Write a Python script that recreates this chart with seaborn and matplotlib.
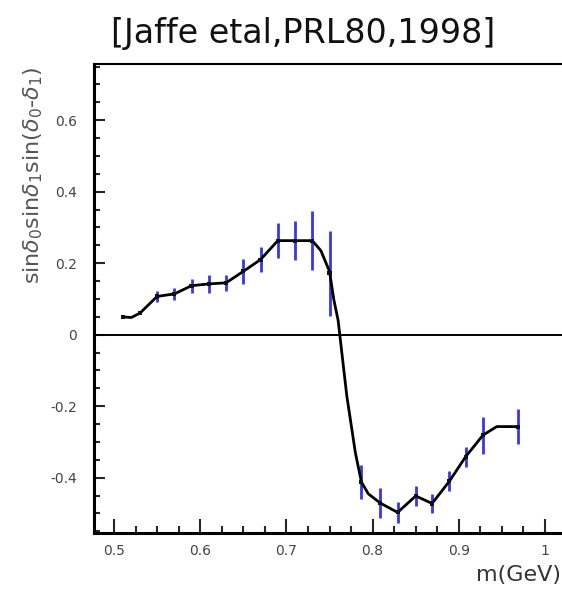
import numpy as np
import pandas as pd
import matplotlib
matplotlib.use("Agg")
import matplotlib.pyplot as plt
import seaborn as sns
from matplotlib.ticker import MultipleLocator

# measured points with error bars
pt_x = [0.51, 0.53, 0.55, 0.57, 0.59, 0.61, 0.63, 0.65, 0.67, 0.69, 0.71, 0.73, 0.75,
        0.787, 0.809, 0.829, 0.850, 0.869, 0.889, 0.908, 0.928, 0.969]
pt_y = [0.050, 0.060, 0.107, 0.114, 0.137, 0.142, 0.145, 0.177, 0.210, 0.263, 0.263, 0.263, 0.172,
        -0.412, -0.471, -0.497, -0.451, -0.472, -0.410, -0.341, -0.281, -0.257]
pt_err = [0.0, 0.0, 0.015, 0.016, 0.020, 0.025, 0.022, 0.034, 0.035, 0.049, 0.055, 0.083, 0.119,
          0.047, 0.042, 0.030, 0.027, 0.027, 0.028, 0.028, 0.052, 0.049]

# curve through the points
curve_x = [0.51, 0.52, 0.53, 0.55, 0.57, 0.59, 0.61, 0.63, 0.65, 0.67, 0.69, 0.71, 0.73, 0.74,
           0.75, 0.755, 0.76, 0.77, 0.78, 0.787, 0.795, 0.809, 0.829, 0.850, 0.869, 0.889,
           0.908, 0.928, 0.944, 0.969]
curve_y = [0.050, 0.048, 0.060, 0.107, 0.114, 0.137, 0.142, 0.145, 0.177, 0.210, 0.263, 0.263,
           0.263, 0.235, 0.177, 0.098, 0.040, -0.170, -0.330, -0.412, -0.445, -0.471, -0.497,
           -0.451, -0.472, -0.410, -0.341, -0.281, -0.257, -0.257]

x_ticks = [0.5, 0.6, 0.7, 0.8, 0.9, 1.0]
x_tick_labels = ["0.5", "0.6", "0.7", "0.8", "0.9", "1"]
y_ticks = [-0.4, -0.2, 0.0, 0.2, 0.4, 0.6]
y_tick_labels = ["-0.4", "-0.2", "0", "0.2", "0.4", "0.6"]

sns.set_theme(style="white")
plt.rcParams['font.family'] = ['DejaVu Sans']

fig = plt.figure(figsize=(5.62, 5.90), dpi=100)
ax = fig.add_axes([94 / 562, 57 / 590, 1 - 94 / 562, 469 / 590])

curve = pd.DataFrame({"m": curve_x, "v": curve_y})
pts = pd.DataFrame({"m": pt_x, "v": pt_y, "e": pt_err})

ax.axhline(0, color="black", lw=1.4, zorder=1)
ax.errorbar(pts["m"], pts["v"], yerr=pts["e"], fmt="none", ecolor="#3838e0",
            elinewidth=2.0, capsize=0, zorder=2)
sns.lineplot(data=curve, x="m", y="v", ax=ax, color="black", lw=2.0,
             sort=False, estimator=None, zorder=3)
sns.scatterplot(data=pts, x="m", y="v", ax=ax, color="#111111", s=9, marker="s",
                edgecolor="none", zorder=4)

ax.set_xlim(0.4768, 1.0197)
ax.set_ylim(-0.5546, 0.757)
ax.set_xticks(x_ticks)
ax.set_xticklabels(x_tick_labels)
ax.set_yticks(y_ticks)
ax.set_yticklabels(y_tick_labels)
ax.xaxis.set_minor_locator(MultipleLocator(0.025))
ax.yaxis.set_minor_locator(MultipleLocator(0.05))
ax.tick_params(axis="x", which="major", direction="in", length=10, width=1.5,
               labelsize=10, labelcolor="#444444", pad=8, bottom=True, top=False)
ax.tick_params(axis="x", which="minor", direction="in", length=5, width=1.5,
               bottom=True, top=False)
ax.tick_params(axis="y", which="major", direction="in", length=8, width=1.5,
               labelsize=10, labelcolor="#444444", pad=12, left=True, right=False)
ax.tick_params(axis="y", which="minor", direction="in", length=4, width=1.5,
               left=True, right=False)

for side in ["left", "bottom"]:
    ax.spines[side].set_linewidth(2.2)
    ax.spines[side].set_color("black")
ax.spines["top"].set_linewidth(1.5)
ax.spines["top"].set_color("black")
ax.spines["right"].set_visible(False)

ax.set_xlabel("")
ax.set_ylabel(r"sin$\delta_0$sin$\delta_1$sin($\delta_0$-$\delta_1$)",
              fontsize=16, color="#555555")
ax.yaxis.set_label_coords(-0.105, 0.763)

fig.text(0.998, 0.025, "m(GeV)", ha="right", va="center", fontsize=16, color="#333333")
fig.text(0.54, 0.944, "[Jaffe etal,PRL80,1998]", ha="center", va="center",
         fontsize=24, color="#111111")

fig.savefig("out.png", dpi=100)
